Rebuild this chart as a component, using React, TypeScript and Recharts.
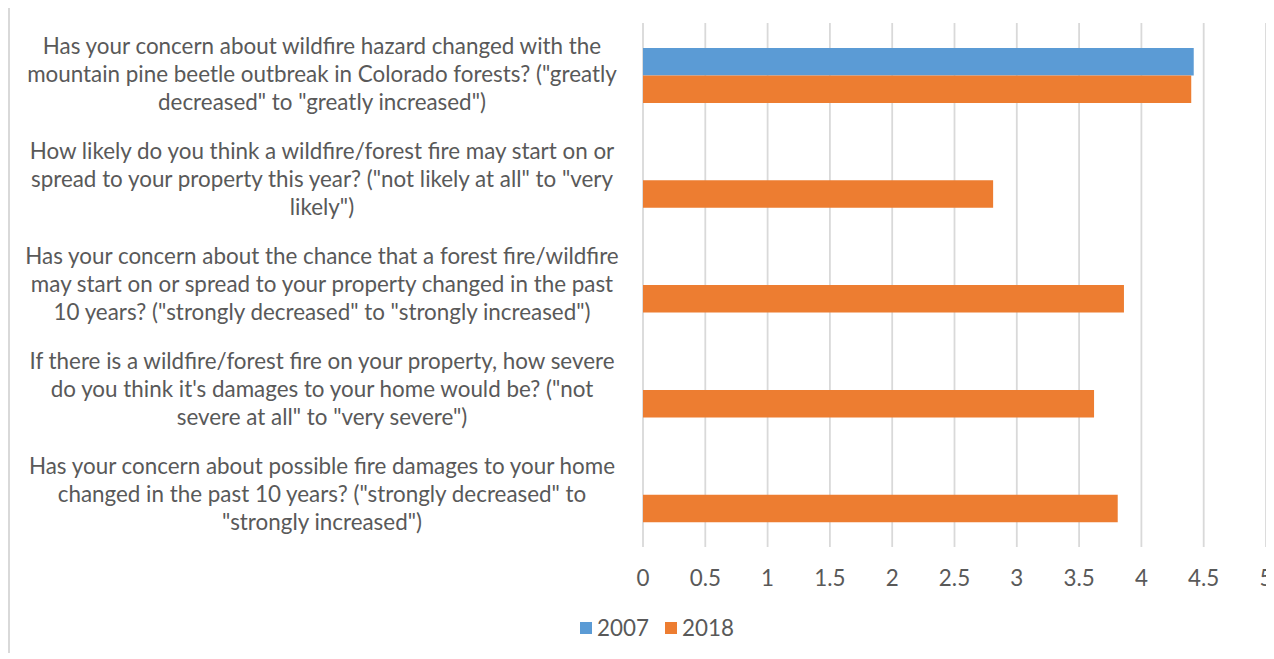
import { Bar, BarChart, CartesianGrid, Legend, XAxis, YAxis } from "recharts";

const categories = [
  'Has your concern about wildfire hazard changed with the\nmountain pine beetle outbreak in Colorado forests? ("greatly\ndecreased" to "greatly increased")',
  'How likely do you think a wildfire/forest fire may start on or\nspread to your property this year? ("not likely at all" to "very\nlikely")',
  'Has your concern about the chance that a forest fire/wildfire\nmay start on or spread to your property changed in the past\n10 years? ("strongly decreased" to "strongly increased")',
  'If there is a wildfire/forest fire on your property, how severe\ndo you think it\'s damages to your home would be? ("not\nsevere at all" to "very severe")',
  'Has your concern about possible fire damages to your home\nchanged in the past 10 years? ("strongly decreased" to\n"strongly increased")',
];

const values2007 = [4.42, null, null, null, null];
const values2018 = [4.4, 2.81, 3.86, 3.62, 3.81];

const xTicks = [0, 0.5, 1, 1.5, 2, 2.5, 3, 3.5, 4, 4.5, 5];

const series = [
  { key: "2007", color: "#5B9BD5" },
  { key: "2018", color: "#ED7D31" },
];

const data = categories.map((name, i) => ({
  name,
  "2007": values2007[i],
  "2018": values2018[i],
}));

const FONT = "Lato, 'Open Sans', sans-serif";
const TEXT = "#595959";
const FONT_SIZE = 22.4;
const LABEL_CENTER = 312;
const LINE_H = 28;

function CategoryTick(props: any) {
  const { y, payload } = props;
  const lines = String(payload.value).split("\n");
  const first = y - ((lines.length - 1) * LINE_H) / 2 - 2;
  return (
    <text
      x={LABEL_CENTER}
      y={first}
      textAnchor="middle"
      fill={TEXT}
      fontSize={FONT_SIZE}
      fontFamily={FONT}
      dominantBaseline="central"
    >
      {lines.map((line, i) => (
        <tspan key={i} x={LABEL_CENTER} y={first + i * LINE_H}>
          {line}
        </tspan>
      ))}
    </text>
  );
}

function LegendContent() {
  return (
    <div
      style={{
        display: "flex",
        justifyContent: "center",
        gap: 16,
        paddingLeft: 38,
        fontFamily: FONT,
        fontSize: FONT_SIZE,
        color: TEXT,
        lineHeight: "26px",
      }}
    >
      {series.map((s) => (
        <span key={s.key} style={{ display: "flex", alignItems: "center" }}>
          <span
            style={{
              width: 12,
              height: 12,
              background: s.color,
              marginRight: 5,
              display: "inline-block",
            }}
          />
          {s.key}
        </span>
      ))}
    </div>
  );
}

export default function App() {
  return (
    <div style={{ borderLeft: "2px solid #d9d9d9", width: 1264, height: 645 }}>
      <BarChart
        width={1264}
        height={645}
        data={data}
        layout="vertical"
        margin={{ top: 15, right: 8, bottom: 12, left: 0 }}
        barGap={0}
        barSize={27.5}
      >
        <CartesianGrid horizontal={false} stroke="#d9d9d9" strokeWidth={1.8} />
        <XAxis
          type="number"
          domain={[0, 5]}
          ticks={xTicks}
          axisLine={false}
          tickLine={false}
          tickSize={0}
          tickMargin={23}
          height={68}
          interval={0}
          tick={{ fill: TEXT, fontSize: FONT_SIZE, fontFamily: FONT }}
        />
        <YAxis
          type="category"
          dataKey="name"
          width={633}
          axisLine={false}
          tickLine={false}
          tick={<CategoryTick />}
          interval={0}
        />
        <Legend verticalAlign="bottom" content={<LegendContent />} />
        {series.map((s) => (
          <Bar key={s.key} dataKey={s.key} fill={s.color} isAnimationActive={false} />
        ))}
      </BarChart>
    </div>
  );
}
